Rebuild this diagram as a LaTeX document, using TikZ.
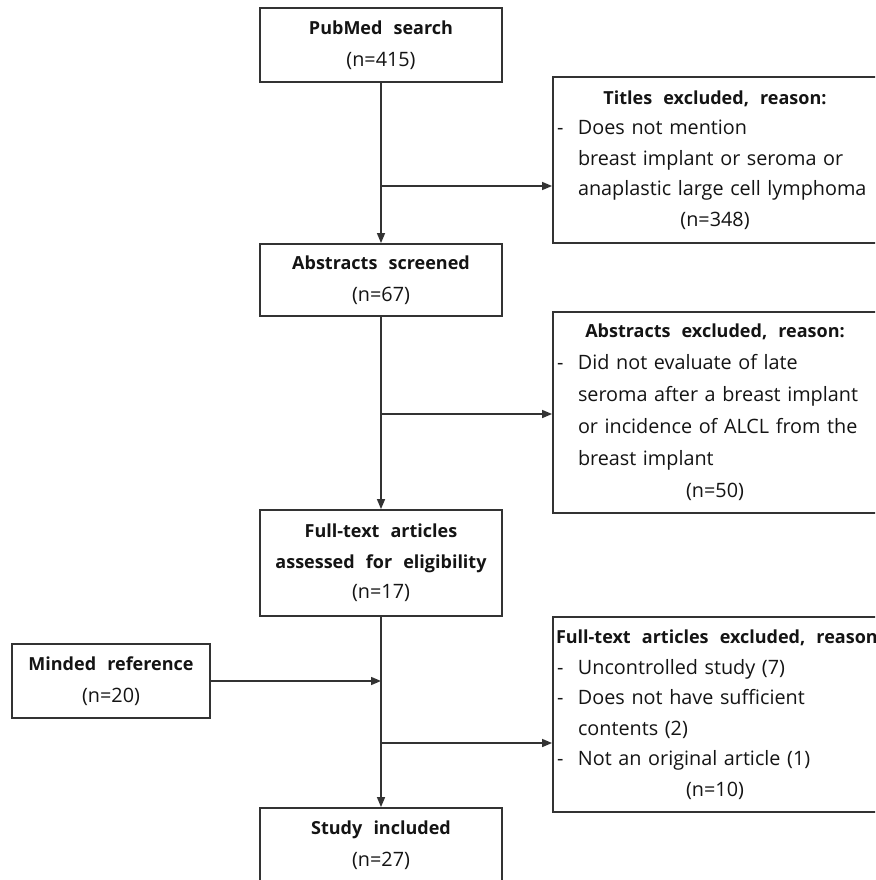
\documentclass[tikz,border=0pt]{standalone}
\usepackage{fontspec}
\setmainfont{Open Sans}
\usetikzlibrary{arrows.meta,calc}
\definecolor{ink}{HTML}{141414}
\definecolor{soft}{HTML}{333333}
\newcommand{\wsp}{\spaceskip=0.6em plus 0.05em\relax}
\newcommand{\hd}[1]{{\fontsize{18}{30}\selectfont\bfseries\spaceskip=0.62em\relax #1}}
\newcommand{\ctrline}[1]{\makebox[\linewidth]{#1}}
\newcommand{\dashline}[1]{\makebox[21pt][l]{-}#1}
\newcommand{\indline}[1]{\hspace*{21pt}#1}
\begin{document}
\begin{tikzpicture}[x=1pt,y=-1pt,
  box/.style={draw=soft, line width=1.9pt, rectangle, inner sep=0pt, text=ink},
  mainbox/.style={box, minimum width=242pt, align=center,
     font=\fontsize{19.8}{32}\selectfont\wsp},
  sidebox/.style={box, minimum width=324pt, text width=316pt, inner xsep=4pt, align=left,
     font=\fontsize{19.8}{30.5}\selectfont\wsp},
  conn/.style={draw=soft, line width=1.5pt},
  arr/.style={conn, -{Triangle[length=10pt,width=8pt]}}]
\useasboundingbox (0,0) rectangle (875,880);
\clip (0,0) rectangle (875,880);
\fill[white] (0,0) rectangle (875,880);

\node[mainbox, minimum height=74pt] (pub) at (381,45) {\hd{PubMed search}\\(n=415)};
\node[mainbox, minimum height=72pt] (abs) at (381,280) {\hd{Abstracts screened}\\(n=67)};
\node[mainbox, minimum height=106pt, font=\fontsize{19.8}{30.5}\selectfont\wsp] (ft) at (381,563)
  {\hd{Full-text articles}\\\hd{assessed for eligibility}\\(n=17)};
\node[mainbox, minimum height=74pt] (inc) at (381,845) {\hd{Study included}\\(n=27)};
\node[mainbox, minimum width=198pt, minimum height=74pt] (mind) at (111,681)
  {\hd{Minded reference}\\(n=20)};

\node[sidebox, minimum height=166pt] (tit) at (715,160)
  {\ctrline{\hd{Titles excluded, reason:}}\\
   \dashline{Does not mention}\\
   \indline{breast implant or seroma or}\\
   \indline{anaplastic large cell lymphoma}\\
   \ctrline{(n=348)}};
\node[sidebox, minimum height=201pt, font=\fontsize{19.8}{32}\selectfont\wsp] (absx) at (715,412.5)
  {\ctrline{\hd{Abstracts excluded, reason:}}\\
   \dashline{Did not evaluate of late}\\
   \indline{seroma after a breast implant}\\
   \indline{or incidence of ALCL from the}\\
   \indline{breast implant}\\
   \ctrline{(n=50)}};
\node[sidebox, minimum height=195pt] (ftx) at (715,714.5)
  {\hspace*{-1pt}\makebox[\linewidth][l]{\hd{Full-text articles excluded, reason:}}\\
   \dashline{Uncontrolled study (7)}\\
   \dashline{Does not have sufficient}\\
   \indline{contents (2)}\\
   \dashline{Not an original article (1)}\\
   \ctrline{(n=10)}};

\coordinate (b1) at (381,186);
\coordinate (b2) at (381,414);
\coordinate (b3) at (381,743);

\draw[arr] (pub.south) -- (abs.north);
\draw[arr] (b1) -- (b1 -| tit.west);
\draw[arr] (abs.south) -- (ft.north);
\draw[arr] (b2) -- (b2 -| absx.west);
\draw[arr] (ft.south) -- (inc.north);
\draw[arr] (mind.east) -- (mind.east -| ft.south);
\draw[arr] (b3) -- (b3 -| ftx.west);
\end{tikzpicture}
\end{document}
